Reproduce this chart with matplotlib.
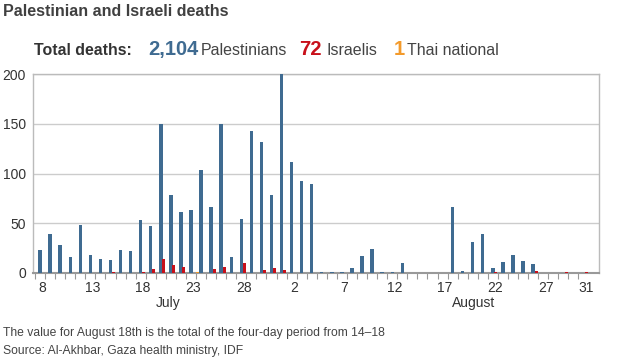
import matplotlib

matplotlib.use("Agg")
import matplotlib.pyplot as plt
import numpy as np

plt.rcParams["font.family"] = ["Liberation Sans", "DejaVu Sans"]

# days from 8 July to 31 August 2014
july_days = list(range(8, 32))
august_days = list(range(1, 32))
day_numbers = july_days + august_days

palestinians = [
    23, 39, 28, 16, 48, 18, 14, 13, 23, 22, 53, 47, 150, 78, 61, 63,
    104, 66, 150, 16, 54, 143, 132, 78,
    200, 112, 92, 89, 1, 1, 1, 5, 17, 24, 1, 1, 10, 0, 0, 0, 0,
    66, 2, 31, 39, 5, 11, 18, 12, 9, 0, 0, 0, 0, 0,
]
israelis = [
    0, 0, 0, 0, 0, 0, 0, 1, 0, 0, 1, 4, 14, 8, 6, 0,
    0, 4, 6, 0, 10, 0, 3, 5,
    3, 0, 0, 0, 0, 0, 0, 0, 0, 0, 0, 0, 0, 0, 0, 0, 0,
    0, 0, 0, 0, 1, 0, 0, 0, 2, 0, 0, 1, 0, 1,
]
thai = [0] * 55
thai[15] = 1  # 23 July

tick_days = [8, 13, 18, 23, 28, 2, 7, 12, 17, 22, 27, 31]
tick_index = [0, 5, 10, 15, 20, 25, 30, 35, 40, 45, 50, 54]

BLUE = "#3f6b91"
RED = "#c8101a"
ORANGE = "#f39a2b"
TEXT = "#333333"

fig = plt.figure(figsize=(6.24, 3.59), dpi=100)
ax = fig.add_axes([33 / 624, 1 - 273 / 359, (599 - 33) / 624, (273 - 74) / 359])

x = np.arange(len(day_numbers))
ax.bar(x, palestinians, width=0.34, color=BLUE, zorder=3)
ax.bar(x + 0.3, israelis, width=0.3, color=RED, zorder=3)
ax.bar(x + 0.6, thai, width=0.3, color=ORANGE, zorder=3)

ax.set_xlim(-0.7, 55.55)
ax.set_ylim(0, 200)
ax.set_yticks([0, 50, 100, 150, 200])
ax.yaxis.grid(True, color="#cccccc", lw=1, zorder=0)
ax.tick_params(axis="y", length=0, labelsize=10, labelcolor=TEXT, pad=5)

ax.set_xticks([i + 0.25 for i in tick_index])
ax.set_xticklabels([str(d) for d in tick_days])
ax.set_xticks(x - 0.5, minor=True)
ax.tick_params(axis="x", which="major", length=0, labelsize=10, labelcolor=TEXT, pad=6)
ax.tick_params(axis="x", which="minor", length=4, width=0.8, color="#999999")

for side in ["left", "top", "right"]:
    ax.spines[side].set_color("#bbbbbb")
    ax.spines[side].set_linewidth(1)
ax.spines["bottom"].set_color("#999999")
ax.spines["bottom"].set_linewidth(1.5)
ax.set_axisbelow(True)

trans = ax.get_xaxis_transform()
ax.text(12.7, -0.15, "July", transform=trans, ha="center", va="center", fontsize=10, color=TEXT)
ax.text(43.1, -0.15, "August", transform=trans, ha="center", va="center", fontsize=10, color=TEXT)

fig.text(3 / 624, 1 - 12 / 359, "Palestinian and Israeli deaths", fontsize=11.5,
         fontweight="bold", color="#404040", va="center")

base = 1 - 55 / 359
fig.text(34 / 624, base, "Total deaths:", fontsize=11.4, fontweight="bold", color=TEXT, va="baseline")
fig.text(148 / 624, base, "2,104", fontsize=14.5, fontweight="bold", color=BLUE, va="baseline")
fig.text(201 / 624, base, "Palestinians", fontsize=11.5, color="#444444", va="baseline")
fig.text(299 / 624, base, "72", fontsize=14.5, fontweight="bold", color=RED, va="baseline")
fig.text(326 / 624, base, "Israelis", fontsize=11.5, color="#444444", va="baseline")
fig.text(394 / 624, base, "1", fontsize=14.5, fontweight="bold", color=ORANGE, va="baseline")
fig.text(407 / 624, base, "Thai national", fontsize=11.5, color="#444444", va="baseline")

fig.text(3 / 624, 1 - 333 / 359, "The value for August 18th is the total of the four-day period from 14\u201318",
         fontsize=8.7, color="#444444", va="center")
fig.text(3 / 624, 1 - 351 / 359, "Source: Al-Akhbar, Gaza health ministry, IDF",
         fontsize=8.7, color="#444444", va="center")

fig.savefig("out.png", dpi=100)
